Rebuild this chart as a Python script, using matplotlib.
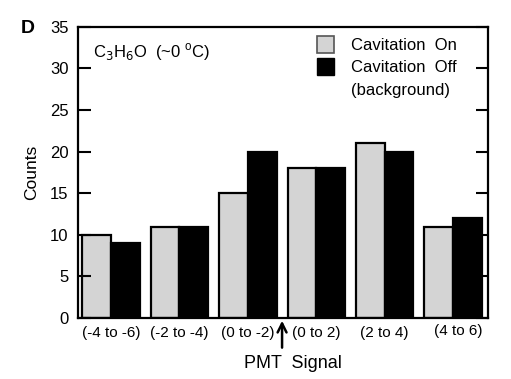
import numpy as np
import matplotlib.pyplot as plt
import matplotlib.transforms as mtransforms
from matplotlib.patches import Patch

plt.rcParams['font.family'] = ['Liberation Sans', 'DejaVu Sans']

# data
bins = ["(-4 to -6)", "(-2 to -4)", "(0 to -2)", "(0 to 2)", "(2 to 4)", "(4 to 6)"]
cav_on = [10, 11, 15, 18, 21, 11]
cav_off = [9, 11, 20, 18, 20, 12]

fig = plt.figure(figsize=(5.11, 3.79), dpi=100)
ax = fig.add_axes([0.153, 0.161, 0.802, 0.768])

x = np.arange(len(bins))
w = 0.42
ax.bar(x - w / 2, cav_on, w, color="#d4d4d4", edgecolor="black", linewidth=1.6)
ax.bar(x + w / 2, cav_off, w, color="black", edgecolor="black", linewidth=1.6)

ax.set_xlim(-0.48, 5.51)
ax.set_ylim(0, 35)
ax.set_yticks(range(0, 36, 5))
ax.tick_params(axis="y", direction="in", length=9, width=1.5, right=True,
               labelsize=12, pad=7)
ax.set_xticks(x)
ax.set_xticklabels(bins, fontsize=11)
ax.tick_params(axis="x", length=0, pad=6)
for s in ax.spines.values():
    s.set_linewidth(1.6)

# last label sits a little right and higher in the original
last = ax.get_xticklabels()[-1]
last.set_transform(last.get_transform() +
                   mtransforms.ScaledTranslation(5 / 100, 2 / 100, fig.dpi_scale_trans))

ax.set_ylabel("Counts", fontsize=12.5, labelpad=8)

ax.text(0.035, 0.95, r"C$_3$H$_6$O  (~0 $^{\mathregular{o}}$C)", transform=ax.transAxes,
        fontsize=12, va="top", ha="left")
fig.text(0.055, 0.925, "D", fontsize=14, fontweight="bold", va="center", ha="center")

# third entry has no marker so "(background)" reads as a second line
handles = [Patch(facecolor="#d4d4d4", edgecolor="#555555", linewidth=1.2),
           Patch(facecolor="black", edgecolor="black"),
           Patch(facecolor="none", edgecolor="none")]
ax.legend(handles, ["Cavitation  On", "Cavitation  Off", "(background)"],
          loc="upper right", bbox_to_anchor=(0.96, 1.02), frameon=False,
          fontsize=12, handlelength=1.0, handleheight=1.2, handletextpad=1.0,
          labelspacing=0.3)

# arrow marking the PMT signal
ax.annotate("", xy=(2.5, 0), xytext=(2.5, -3.9), annotation_clip=False,
            arrowprops=dict(arrowstyle="->", color="black", lw=1.8, mutation_scale=16))
ax.text(2.66, -4.5, "PMT  Signal", fontsize=13, ha="center", va="top")

fig.savefig("out.png", dpi=100)
